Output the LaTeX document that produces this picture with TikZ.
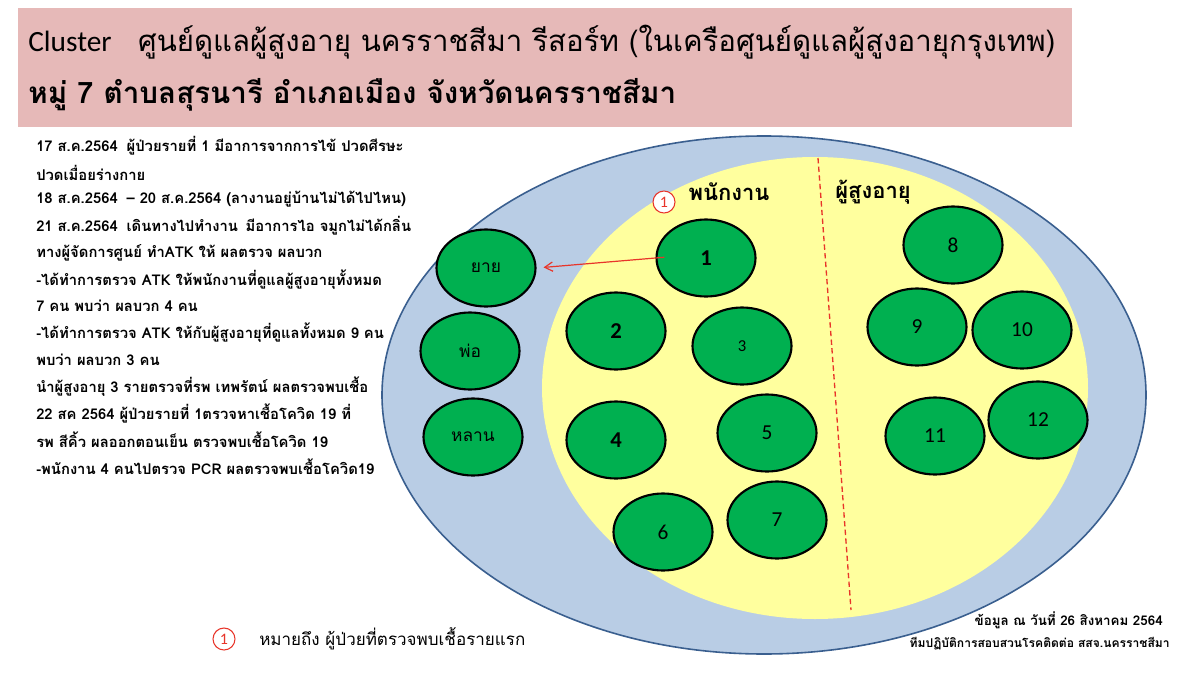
\documentclass[tikz,border=0pt]{standalone}
\usepackage{fontspec}
\setmainfont{Carlito}
\newfontfamily\thai[Script=Thai]{Loma}
\newfontfamily\carlito{Carlito}
\usetikzlibrary{shapes.geometric,arrows.meta}
\definecolor{pinkbg}{HTML}{E6B9B8}
\definecolor{bluefill}{HTML}{B9CDE5}
\definecolor{blueborder}{HTML}{3A5F8F}
\definecolor{yellowfill}{HTML}{FFFF9E}
\definecolor{greenfill}{HTML}{00B050}
\definecolor{redline}{HTML}{E8352A}
\newdimen\px \px=0.75pt
\begin{document}
\begin{tikzpicture}[x=0.75pt,y=-0.75pt,
  person/.style={ellipse, draw=black, line width=1.6pt, fill=greenfill, minimum width=99\px, minimum height=77\px, inner sep=0pt},
  numreg/.style={font=\carlito\fontsize{16}{16}\selectfont},
  numbold/.style={font=\carlito\bfseries\fontsize{17}{17}\selectfont},
  thailabel/.style={font=\thai\fontsize{13}{13}\selectfont},
  grouplabel/.style={font=\thai\bfseries\fontsize{16.5}{17}\selectfont, inner sep=0pt},
  lefttext/.style={anchor=west, inner sep=0pt, font=\thai\bfseries\fontsize{11.1}{12}\selectfont},
  firstmark/.style={circle, draw=redline, line width=0.8pt, fill=white, minimum size=22\px, inner sep=0pt, text=redline, font=\carlito\fontsize{12}{12}\selectfont},
  plaintext/.style={anchor=west, inner sep=0pt}
]
\useasboundingbox (0,0) rectangle (1200,678);
\fill[white] (0,0) rectangle (1200,678);
% title banner
\fill[pinkbg] (18,8) rectangle (1072,127);
\node[plaintext] (title1) at (28,42) {\resizebox{1027\px}{!}{\carlito Cluster\hspace{0.9em}\thai ศูนย์ดูแลผู้สูงอายุ นครราชสีมา รีสอร์ท (ในเครือศูนย์ดูแลผู้สูงอายุกรุงเทพ)}};
\node[plaintext] (title2) at (28,95) {\resizebox{648\px}{!}{\thai\bfseries หมู่ 7 ตำบลสุรนารี อำเภอเมือง จังหวัดนครราชสีมา}};
% outer cluster and staff zone
\node[ellipse, draw=blueborder, line width=1.2pt, fill=bluefill, minimum width=764\px, minimum height=518\px, inner sep=0pt] (outer) at (764,395) {};
\node[ellipse, fill=yellowfill, minimum width=546\px, minimum height=462\px, inner sep=0pt] (zone) at (815,388) {};
\coordinate (dtop) at (818,158);
\coordinate (dbot) at (851,610);
\draw[redline, line width=1pt, dash pattern=on 4pt off 2.5pt] (dtop) -- (dbot);
% group labels
\node[grouplabel] (staff) at (729,192) {พนักงาน};
\node[grouplabel] (elders) at (873,192) {ผู้สูงอายุ};
\node[firstmark] (mark) at (664,202) {1};
% family
\node[person, thailabel] (yay) at (486,268) {ยาย};
\node[person, thailabel] (pho) at (470,351) {พ่อ};
\node[person, thailabel] (lan) at (473,437) {หลาน};
% staff
\node[person, numbold] (c1) at (706,258) {1};
\node[person, numbold] (c2) at (616,331) {2};
\node[person, font=\carlito\fontsize{12.5}{12.5}\selectfont] (c3) at (742,346) {3};
\node[person, numbold] (c4) at (616,440) {4};
\node[person, numreg] (c5) at (767,433) {5};
\node[person, numreg] (c6) at (663,532) {6};
\node[person, numreg] (c7) at (777,520) {7};
% elders
\node[person, numreg] (c8) at (953,245) {8};
\node[person, numreg] (c9) at (917,327) {9};
\node[person, numreg] (c10) at (1022,330) {10};
\node[person, numreg] (c11) at (935,436) {11};
\node[person, numreg] (c12) at (1038,420) {12};
% transmission arrow
\draw[redline, line width=0.9pt, -{Straight Barb[length=6pt,width=7pt]}, shorten >=7\px, shorten <=-9\px] (c1.west) -- (yay.east);
% timeline text
\node[lefttext] (l1) at (36,146) {17 ส.ค.2564\hspace{0.6em}ผู้ป่วยรายที่ 1 มีอาการจากการไข้ ปวดศีรษะ};
\node[lefttext] (l2) at (36,172.7) {ปวดเมื่อยร่างกาย};
\node[lefttext] (l3) at (36,199.4) {18 ส.ค.2564\hspace{0.6em}– 20 ส.ค.2564 (ลางานอยู่บ้านไม่ได้ไปไหน)};
\node[lefttext] (l4) at (36,226.1) {21 ส.ค.2564\hspace{0.6em}เดินทางไปทำงาน\hspace{0.5em}มีอาการไอ จมูกไม่ได้กลิ่น};
\node[lefttext] (l5) at (36,252.8) {ทางผู้จัดการศูนย์ ทำATK ให้ ผลตรวจ ผลบวก};
\node[lefttext] (l6) at (36,279.5) {-ได้ทำการตรวจ ATK ให้พนักงานที่ดูแลผู้สูงอายุทั้งหมด};
\node[lefttext] (l7) at (36,306.2) {7 คน พบว่า ผลบวก 4 คน};
\node[lefttext] (l8) at (36,332.9) {-ได้ทำการตรวจ ATK ให้กับผู้สูงอายุที่ดูแลทั้งหมด 9 คน};
\node[lefttext] (l9) at (36,359.6) {พบว่า ผลบวก 3 คน};
\node[lefttext] (l10) at (36,386.3) {นำผู้สูงอายุ 3 รายตรวจที่รพ เทพรัตน์ ผลตรวจพบเชื้อ};
\node[lefttext] (l11) at (36,413.0) {22 สค 2564 ผู้ป่วยรายที่ 1ตรวจหาเชื้อโควิด 19 ที่};
\node[lefttext] (l12) at (36,439.7) {รพ สีคิ้ว ผลออกตอนเย็น ตรวจพบเชื้อโควิด 19};
\node[lefttext] (l13) at (36,466.4) {-พนักงาน 4 คนไปตรวจ PCR ผลตรวจพบเชื้อโควิด19};
% legend
\node[firstmark] (legmark) at (224,639) {1};
\node[plaintext] (legtext) at (259,639) {\resizebox{266\px}{!}{\thai หมายถึง ผู้ป่วยที่ตรวจพบเชื้อรายแรก}};
% source
\node[anchor=east, inner sep=0pt] (src1) at (1163,620) {\resizebox{188\px}{!}{\thai\bfseries ข้อมูล ณ วันที่ 26 สิงหาคม 2564}};
\node[anchor=east, inner sep=0pt] (src2) at (1170,644) {\resizebox{260\px}{!}{\thai\bfseries ทีมปฏิบัติการสอบสวนโรคติดต่อ สสจ.นครราชสีมา}};
\end{tikzpicture}
\end{document}
